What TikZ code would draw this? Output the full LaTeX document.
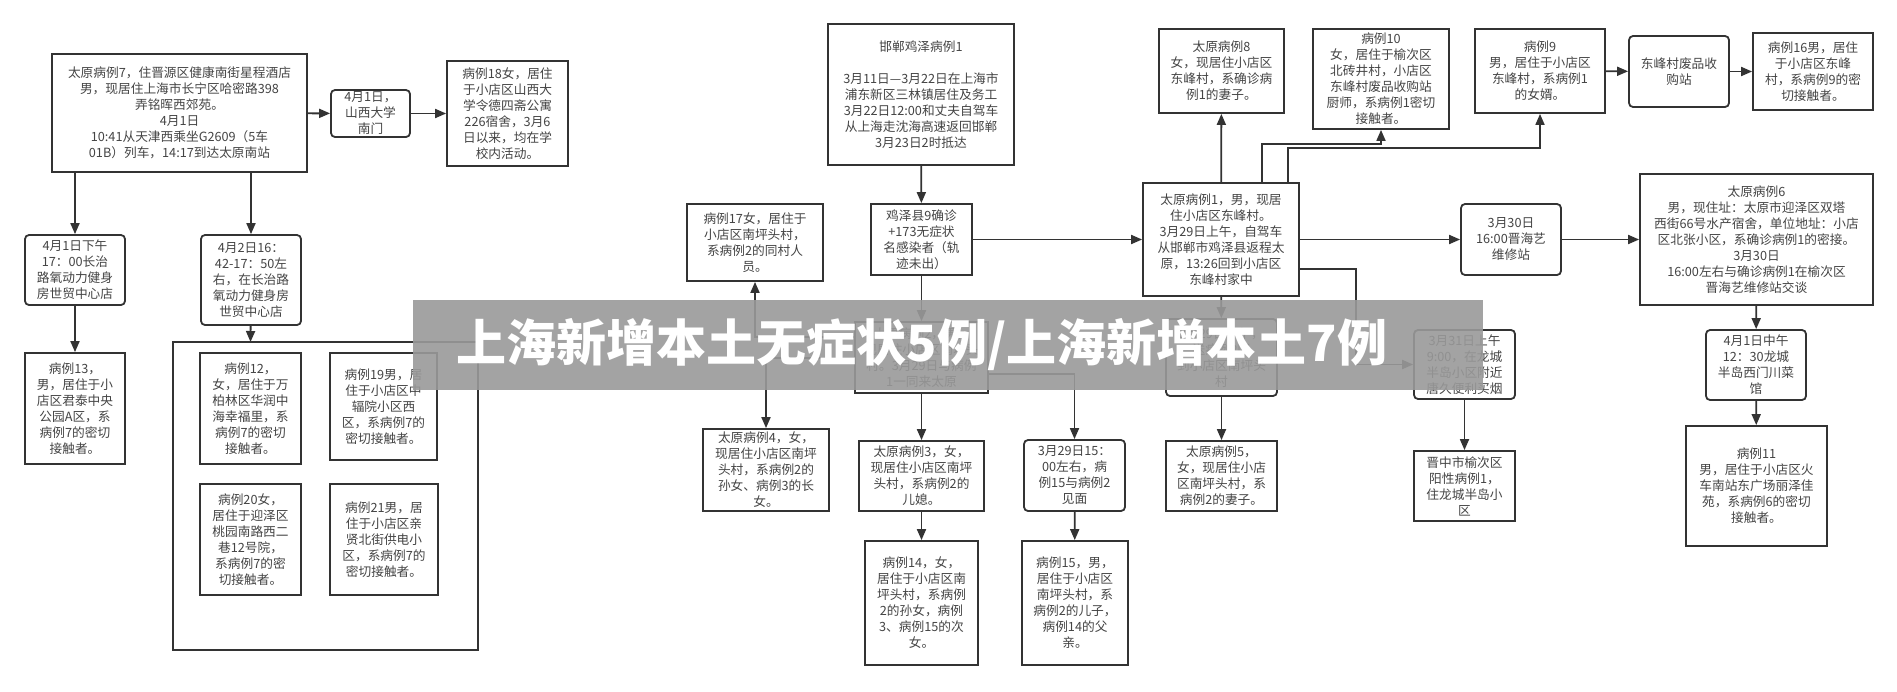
\documentclass[tikz,border=0pt]{standalone}
\usepackage{fontspec}
\newfontfamily\cjk{Noto Sans CJK SC}
\usetikzlibrary{arrows.meta}
\definecolor{ln}{HTML}{333333}
\definecolor{tx}{HTML}{444444}
\begin{document}
\begin{tikzpicture}[x=1pt,y=-1pt,
  box/.style={draw=ln,line width=1.8pt,fill=white,align=center,inner sep=1pt,text=tx,
    font=\cjk\fontsize{12.7}{16}\selectfont},
  rbox/.style={box,rounded corners=4pt},
  arr/.style={draw=ln,line width=1.8pt,-{Triangle[length=11pt,width=9pt]}},
  ln/.style={draw=ln,line width=1.8pt}]
\useasboundingbox (0,0) rectangle (1897,691);
\fill[white] (0,0) rectangle (1897,691);
\newcommand\bx[6]{\node[#1,minimum width=#4,minimum height=#5] (#2) at (#3) {#6};}
% container
\draw[ln] (173,342) rectangle (478,650);
\coordinate (cont) at (250.5,342);
\bx{box}{c7}{179.5,113}{255}{118}{太原病例7，住晋源区健康南街星程酒店\\男，现居住上海市长宁区哈密路398\\弄铭晖西郊苑。\\4月1日\\10:41从天津西乘坐G2609（5车\\01B）列车，14:17到达太原南站}
\bx{rbox}{a41}{370.5,113.5}{79}{47}{4月1日，\\山西大学\\南门}
\bx{box}{c18}{507.5,113.5}{121}{105}{病例18女，居住\\于小店区山西大\\学令德四斋公寓\\226宿舍，3月6\\日以来，均在学\\校内活动。}
\bx{rbox}{p41}{75,270}{100}{70}{4月1日下午\\17：00长治\\路氧动力健身\\房世贸中心店}
\bx{rbox}{p42}{251,280}{100}{90}{4月2日16：\\42-17：50左\\右，在长治路\\氧动力健身房\\世贸中心店}
\bx{box}{c13}{75,408.5}{100}{111}{病例13，\\男，居住于小\\店区君泰中央\\公园A区，系\\病例7的密切\\接触者。}
\bx{box}{c12}{250.5,408.5}{101}{111}{病例12，\\女，居住于万\\柏林区华润中\\海幸福里，系\\病例7的密切\\接触者。}
\bx{box}{c19}{383.5,406.5}{107}{107}{病例19男，居\\住于小店区中\\辐院小区西\\区，系病例7的\\密切接触者。}
\bx{box}{c20}{250.5,539.5}{101}{111}{病例20女，\\居住于迎泽区\\桃园南路西二\\巷12号院，\\系病例7的密\\切接触者。}
\bx{box}{c21}{384,539.5}{108}{111}{病例21男，居\\住于小店区亲\\贤北街供电小\\区，系病例7的\\密切接触者。}
\bx{box}{c17}{755,242.5}{136}{77}{病例17女，居住于\\小店区南坪头村，\\系病例2的同村人\\员。}
\bx{box}{hd}{921,94.5}{186}{141}{邯郸鸡泽病例1\\[16pt]3月11日—3月22日在上海市\\浦东新区三林镇居住及务工\\3月22日12:00和丈夫自驾车\\从上海走沈海高速返回邯郸\\3月23日2时抵达}
\bx{box}{jz}{921.5,239.5}{101}{71}{鸡泽县9确诊\\+173无症状\\名感染者（轨\\迹未出）}
\bx{box}{t2}{921.5,357.5}{133}{71}{太原病例2，男，\\现居住小店区南坪头\\村。3月29日与病例\\1一同来太原}
\bx{box}{t4}{766,470}{126}{82}{太原病例4，女，\\现居住小店区南坪\\头村，系病例2的\\孙女、病例3的长\\女。}
\bx{box}{t3}{921.5,476}{125}{70}{太原病例3，女，\\现居住小店区南坪\\头村，系病例2的\\儿媳。}
\bx{box}{c14}{921.5,603}{113}{124}{病例14，女，\\居住于小店区南\\坪头村，系病例\\2的孙女，病例\\3、病例15的次\\女。}
\bx{rbox}{m29}{1074.5,475.5}{101}{71}{3月29日15：\\00左右，病\\例15与病例2\\见面}
\bx{box}{c15}{1075,603}{106}{124}{病例15，男，\\居住于小店区\\南坪头村，系\\病例2的儿子，\\病例14的父\\亲。}
\bx{box}{t1}{1221,239.5}{156}{113}{太原病例1，男，现居\\住小店区东峰村。\\3月29日上午，自驾车\\从邯郸市鸡泽县返程太\\原，13:26回到小店区\\东峰村家中}
\bx{box}{t8}{1221.5,71}{125}{84}{太原病例8\\女，现居住小店区\\东峰村，系确诊病\\例1的妻子。}
\bx{box}{c10}{1381,79}{136}{100}{病例10\\女，居住于榆次区\\北砖井村，小店区\\东峰村废品收购站\\厨师，系病例1密切\\接触者。}
\bx{box}{c9}{1540,71}{130}{84}{病例9\\男，居住于小店区\\东峰村，系病例1\\的女婿。}
\bx{rbox}{fs}{1679,71.5}{100}{71}{东峰村废品收\\购站}
\bx{box}{c16}{1813,71.5}{120}{77}{病例16男，居住\\于小店区东峰\\村，系病例9的密\\切接触者。}
\bx{rbox}{m30}{1511,239.5}{100}{71}{3月30日\\16:00晋海艺\\维修站}
\bx{box}{t6}{1756.5,239.5}{233}{131}{太原病例6\\男，现住址：太原市迎泽区双塔\\西街66号水产宿舍，单位地址：小店\\区北张小区，系确诊病例1的密接。\\3月30日\\16:00左右与确诊病例1在榆次区\\晋海艺维修站交谈}
\bx{rbox}{n41}{1756,365}{100}{70}{4月1日中午\\12：30龙城\\半岛西门川菜\\馆}
\bx{box}{c11}{1756.5,486}{141}{120}{病例11\\男，居住于小店区火\\车南站东广场丽泽佳\\苑，系病例6的密切\\接触者。}
\bx{rbox}{m29b}{1221.5,357.5}{111}{77}{3月29日下午，\\送病例2回\\到小店区南坪头\\村}
\bx{box}{t5}{1221.5,476}{111}{70}{太原病例5，\\女，现居住小店\\区南坪头村，系\\病例2的妻子。}
\bx{rbox}{m31}{1464.5,364.5}{101}{69}{3月31日上午\\9:00，在龙城\\半岛小区附近\\唐久便利买烟}
\bx{box}{jzs}{1464.5,486}{101}{70}{晋中市榆次区\\阳性病例1，\\住龙城半岛小\\区}
% helper coordinates
\coordinate (y337) at (0,337);
\coordinate (y358) at (0,358);
\coordinate (y374) at (0,374);
\coordinate (y269) at (0,269);
\coordinate (k1) at (1262,144);
\coordinate (k2) at (1288,148);
\coordinate (k3) at (1356,0);
% connectors
\draw[arr] (c7) -- (a41);
\draw[arr] (a41) -- (c18);
\draw[arr] (c7.south -| p41) -- (p41.north);
\draw[arr] (c7.south -| p42) -- (p42.north);
\draw[arr] (p41) -- (c13);
\draw[arr] (p42) -- (cont);
\draw[arr] (hd) -- (jz);
\draw[arr] (jz) -- (t1);
\draw[arr] (jz) -- (t2);
\draw[arr] (t2.west |- y337) -| (c17.south);
\draw[arr] (t2.west |- y358) -| (t4.north);
\draw[arr] (t2.east |- y374) -| (m29.north);
\draw[arr] (t2) -- (t3);
\draw[arr] (t3) -- (c14);
\draw[arr] (m29) -- (c15);
\draw[arr] (t1) -- (t8);
\draw[arr] (t1.north -| k1) |- (k1 -| c10) -- (c10.south);
\draw[arr] (t1.north -| k2) |- (k2 -| c9) -- (c9.south);
\draw[arr] (t1) -- (m30);
\draw[arr] (t1.east |- y269) -| (k3 |- m31.west) -- (m31.west);
\draw[arr] (t1) -- (m29b);
\draw[arr] (m29b) -- (t5);
\draw[arr] (m31) -- (jzs);
\draw[arr] (c9) -- (fs);
\draw[arr] (fs) -- (c16);
\draw[arr] (m30) -- (t6);
\draw[arr] (t6) -- (n41);
\draw[arr] (n41) -- (c11);
% banner
\fill[black!40,opacity=0.9] (413,300) rectangle (1483,390);
\node[text=white,font=\cjk\bfseries\fontsize{50}{56}\selectfont,inner sep=0] (ban) at (922,345) {上海新增本土无症状5例/上海新增本土7例};
\end{tikzpicture}
\end{document}
